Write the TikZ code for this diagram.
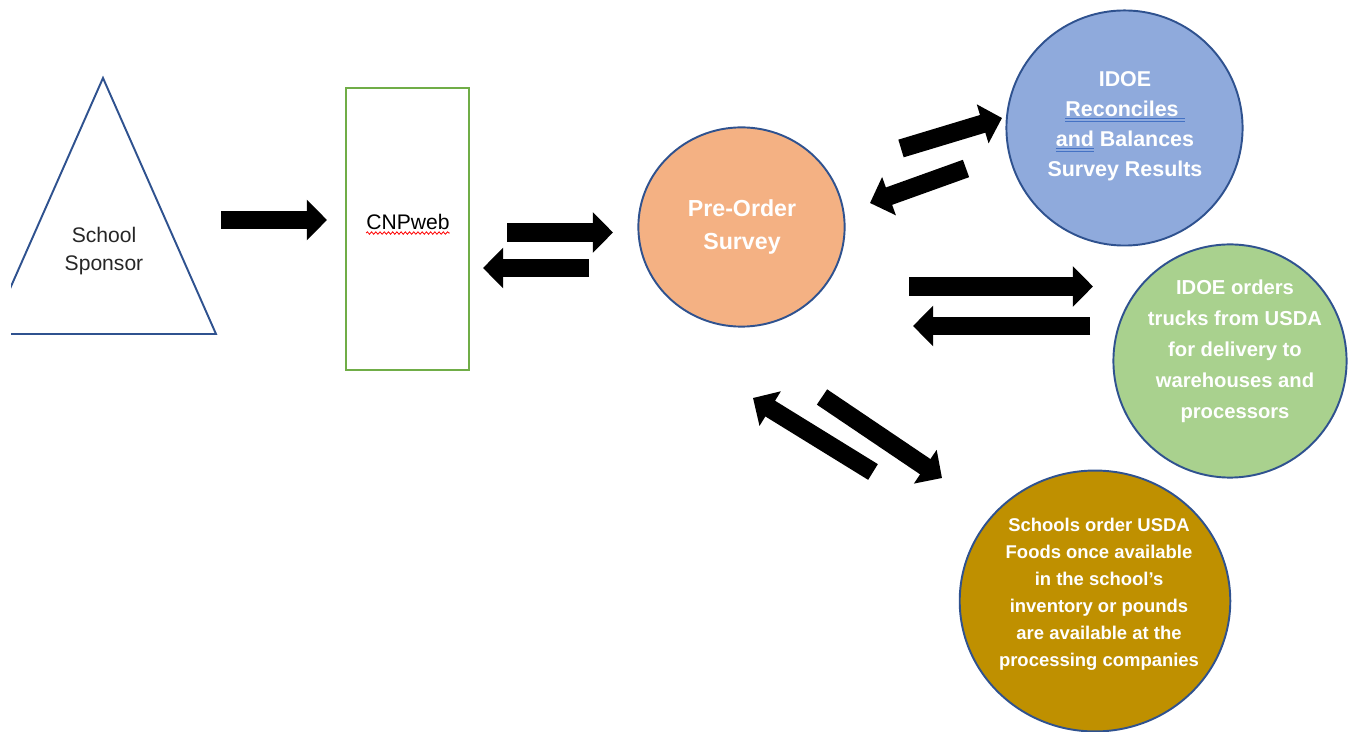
\documentclass[tikz,border=0pt]{standalone}
\usepackage{fontspec}
\setmainfont{Liberation Sans}
\usetikzlibrary{arrows.meta,shapes.geometric,decorations.pathmorphing}

\definecolor{edgeblue}{HTML}{2F528F}
\definecolor{boxgreen}{HTML}{70AD47}
\definecolor{surveyorange}{HTML}{F4B183}
\definecolor{idoeblue}{HTML}{8FAADC}
\definecolor{truckgreen}{HTML}{A9D18E}
\definecolor{schoolgold}{HTML}{BF9000}
\definecolor{markblue}{HTML}{4472C4}
\definecolor{sponsorgray}{HTML}{262626}

% double blue underline (grammar mark)
\newcommand{\dblmark}[1]{\setbox0=\hbox{#1}%
  \rlap{\color{markblue}\rule[-1.6pt]{\wd0}{0.5pt}}%
  \rlap{\color{markblue}\rule[-3.1pt]{\wd0}{0.5pt}}\box0\relax}

\begin{document}
\begin{tikzpicture}[x=0.02cm,y=-0.02cm,
    disc/.style={ellipse,draw=edgeblue,line width=1.1pt,fill=#1,inner sep=0pt},
    disctext/.style={text=white,align=center},
    fat/.style={line width=10.5pt,-{Triangle[length=11.5pt,width=22.5pt]}}]
  \useasboundingbox (0,0) rectangle (1353,732);
  \clip (0,0) rectangle (1353,732);

  % Sponsor
  \begin{scope}
    \clip (11,0) rectangle (300,400);
    \draw[edgeblue,line width=1.1pt] (103,78) -- (216,334) -- (-10,334) -- cycle;
  \end{scope}
  \node[align=center,text=sponsorgray,font=\fontsize{12}{15.9}\selectfont] (sponsor) at (104,251.5) {School\\Sponsor};

  % CNPweb
  \node[draw=boxgreen,line width=1.1pt,minimum width=69.7pt,minimum height=161pt] (cnp) at (407.5,229) {};
  \node[inner sep=0pt,font=\fontsize{12}{14}\selectfont] (cnptext) at (408,222) {CNPweb};
  \draw[red,line width=0.45pt,decorate,decoration={snake,amplitude=0.7pt,segment length=2.4pt}]
    ([yshift=-2pt]cnptext.base west) -- ([yshift=-2pt]cnptext.base east);

  % Kretsar
  \node[disc=surveyorange,minimum width=117.4pt,minimum height=113.4pt] (survey) at (741.5,227) {};
  \node[disctext,font=\bfseries\fontsize{13.2}{18.7}\selectfont] (surveytext) at (742,227) {Pre-Order\\Survey};

  \node[disc=idoeblue,minimum width=134.4pt,minimum height=133.8pt] (idoe) at (1124.5,128) {};
  \node[disctext,font=\bfseries\fontsize{12.2}{17}\selectfont] (idoetext) at (1125,126)
    {IDOE\\\dblmark{Reconciles\ }\\\dblmark{and} Balances\\Survey Results};

  \node[disc=truckgreen,minimum width=132.7pt,minimum height=132.7pt] (trucks) at (1230,361) {};
  \node[disctext,font=\bfseries\fontsize{11.5}{17.6}\selectfont] (truckstext) at (1235,351.5)
    {IDOE orders\\trucks from USDA\\for delivery to\\warehouses and\\processors};

  \node[disc=schoolgold,minimum width=154pt,minimum height=148.5pt] (schools) at (1095,601) {};
  \node[disctext,font=\bfseries\fontsize{10.5}{15.4}\selectfont] (schoolstext) at (1099,594)
    {Schools order USDA\\Foods once available\\in the school’s\\inventory or pounds\\are available at the\\processing companies};

  % Pilar
  \coordinate (a1) at (221,220);   \coordinate (b1) at (327,220);
  \coordinate (a2) at (507,232.5); \coordinate (b2) at (613,232.5);
  \coordinate (a3) at (589,268);   \coordinate (b3) at (483,268);
  \coordinate (a4) at (901,148.5); \coordinate (b4) at (1002,118);
  \coordinate (a5) at (966,168.5); \coordinate (b5) at (870,203);
  \coordinate (a6) at (909,286.5); \coordinate (b6) at (1093,286.5);
  \coordinate (a7) at (1090,326);  \coordinate (b7) at (913,326);
  \coordinate (a8) at (873,472);   \coordinate (b8) at (753,398);
  \coordinate (a9) at (822,397);   \coordinate (b9) at (942,478);
  \foreach \i in {1,...,9}
    \draw[fat] (a\i) -- (b\i);
\end{tikzpicture}
\end{document}
